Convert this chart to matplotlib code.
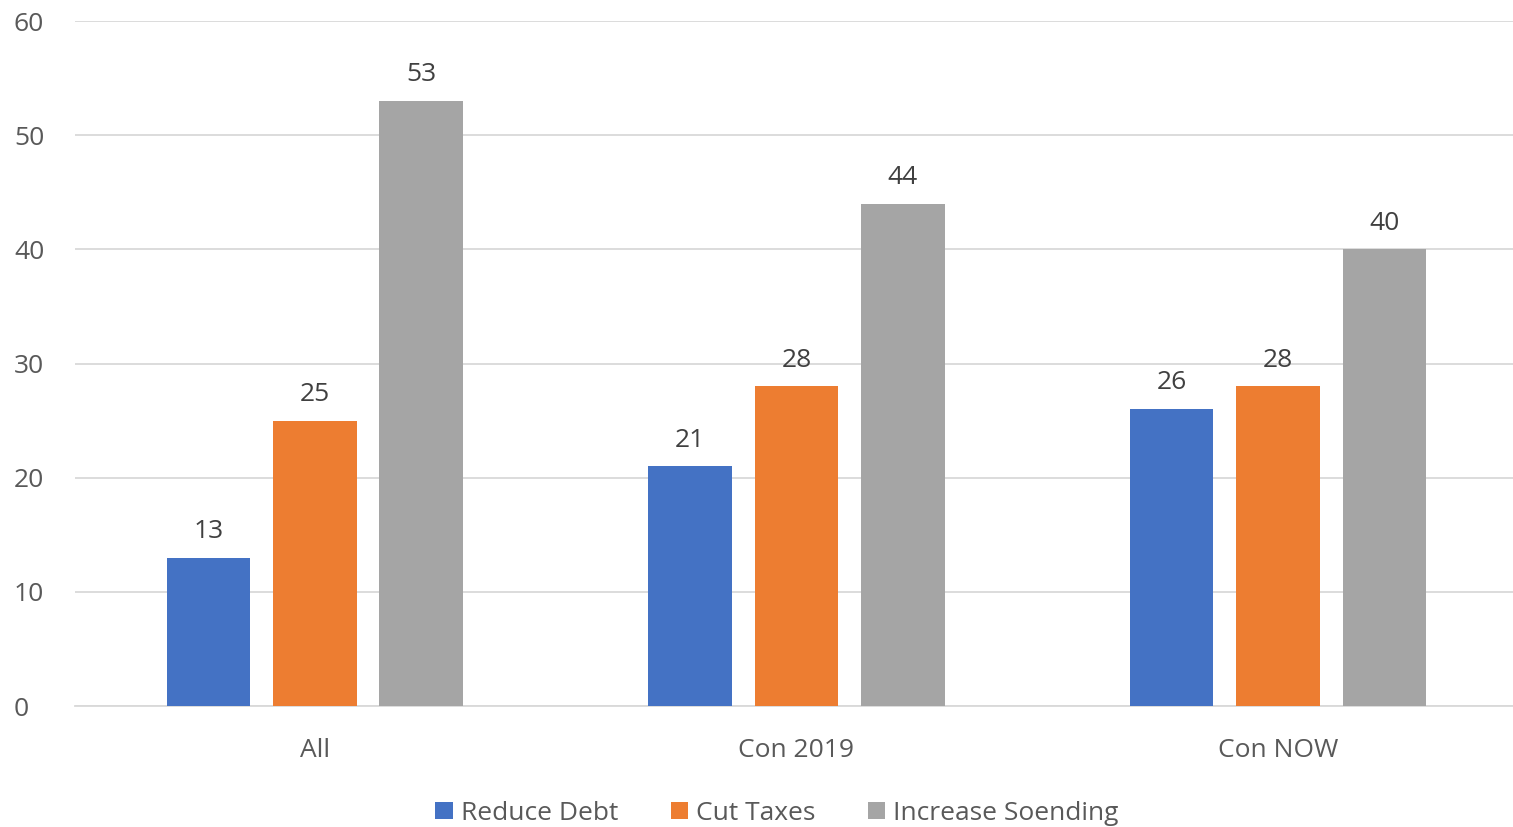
import numpy as np
import matplotlib
matplotlib.use("Agg")
import matplotlib.pyplot as plt

categories = ["All", "Con 2019", "Con NOW"]
reduce_debt = [13, 21, 26]
cut_taxes = [25, 28, 28]
increase_spending = [53, 44, 40]
series_names = ["Reduce Debt", "Cut Taxes", "Increase Soending"]
colours = ["#4472C4", "#ED7D31", "#A5A5A5"]

plt.rcParams['font.family'] = ['Open Sans', 'DejaVu Sans']
text_col = "#595959"

fig = plt.figure(figsize=(15.13, 8.27), dpi=100)
ax = fig.add_axes([0.0496, 0.1463, 0.9504, 0.8283])

x = np.arange(len(categories))
width = 0.174
step = 0.221
series = [reduce_debt, cut_taxes, increase_spending]
for i, (vals, name, col) in enumerate(zip(series, series_names, colours)):
    pos = x + (i - 1) * step
    bars = ax.bar(pos, vals, width, color=col, label=name, zorder=3)
    for b, v in zip(bars, vals):
        ax.text(b.get_x() + b.get_width() / 2, v + 1.2, str(v),
                ha='center', va='bottom', fontsize=19, color="#404040")

ax.set_ylim(0, 60)
ax.set_xlim(-0.498, 2.488)
ax.set_yticks(range(0, 61, 10))
ax.set_xticks(x)
ax.set_xticklabels(categories)
ax.grid(axis='y', color='#D9D9D9', linewidth=1.3, zorder=0)
for s in ['top', 'right', 'left']:
    ax.spines[s].set_visible(False)
ax.spines['bottom'].set_color('#D9D9D9')
ax.spines['bottom'].set_linewidth(1.3)
ax.tick_params(axis='both', length=0, labelsize=19, labelcolor=text_col)
ax.tick_params(axis='x', pad=23)
ax.tick_params(axis='y', pad=44)
for lbl in ax.get_yticklabels():
    lbl.set_horizontalalignment('left')

leg = fig.legend(loc='lower center', bbox_to_anchor=(0.5135, -0.027), ncol=3,
                 frameon=False, fontsize=19, handlelength=0.65, handleheight=0.65,
                 handletextpad=0.3, columnspacing=2.0)
for t in leg.get_texts():
    t.set_color(text_col)

fig.savefig("out.png", dpi=100)
